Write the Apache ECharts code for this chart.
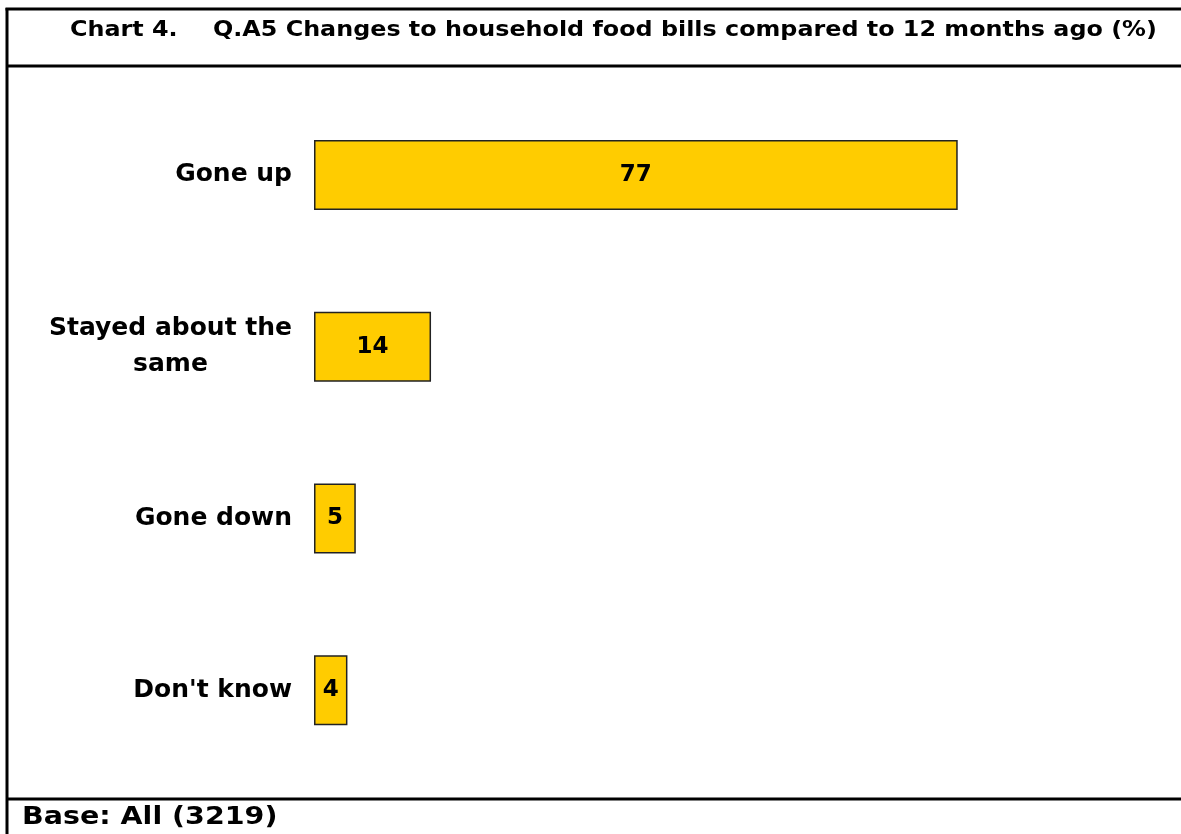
<!DOCTYPE html>
<html>
<head>
<meta charset="utf-8">
<script src="https://cdn.jsdelivr.net/npm/echarts@6/dist/echarts.min.js"></script>
<style>
  html, body { margin: 0; padding: 0; background: #ffffff; }
  #chart { width: 1181px; height: 834px; }
</style>
</head>
<body>
<div id="chart"></div>
<script>
// Survey answers, top to bottom
const categories = ['Gone up', 'Stayed about the\nsame', 'Gone down', "Don't know"];
const percentValues = [77, 14, 5, 4];

const chartNumber = 'Chart 4.';
const chartTitle = 'Q.A5 Changes to household food bills compared to 12 months ago (%)';
const baseNote = 'Base: All (3219)';

const FONT = 'DejaVu Sans';

const chart = echarts.init(document.getElementById('chart'), null, { renderer: 'canvas' });

chart.setOption({
  backgroundColor: '#ffffff',
  animation: false,
  grid: { left: 314, right: 31, top: 89, bottom: 58, containLabel: false },
  xAxis: {
    type: 'value',
    min: 0,
    max: 100,
    show: false
  },
  yAxis: {
    type: 'category',
    inverse: true,
    data: categories,
    axisLine: { show: false },
    axisTick: { show: false },
    splitLine: { show: false },
    axisLabel: {
      margin: 22,
      align: 'right',
      formatter: v => v.split('\n').map(s => '{c|' + s + '}').join('\n'),
      rich: {
        c: {
          align: 'center',
          fontFamily: FONT,
          fontWeight: 'bold',
          fontSize: 25,
          lineHeight: 36,
          color: '#000000'
        }
      }
    }
  },
  series: [{
    type: 'bar',
    data: percentValues,
    barWidth: 70,
    itemStyle: { color: '#FFCC00', borderColor: '#222222', borderWidth: 1.5 },
    label: {
      show: true,
      position: 'inside',
      fontFamily: FONT,
      fontWeight: 'bold',
      fontSize: 23,
      color: '#000000'
    }
  }],
  graphic: [
    // frame lines
    { type: 'line', shape: { x1: 5.5, y1: 9, x2: 1181, y2: 9 }, style: { stroke: '#000', lineWidth: 3 } },
    { type: 'line', shape: { x1: 7, y1: 8, x2: 7, y2: 834 }, style: { stroke: '#000', lineWidth: 3 } },
    { type: 'line', shape: { x1: 7, y1: 66, x2: 1181, y2: 66 }, style: { stroke: '#000', lineWidth: 3 } },
    { type: 'line', shape: { x1: 7, y1: 799, x2: 1181, y2: 799 }, style: { stroke: '#000', lineWidth: 3 } },
    // header
    { type: 'text', x: 70, y: 20, scaleX: 1.135, style: { text: chartNumber, fontFamily: FONT, fontWeight: 'bold', fontSize: 21, fill: '#000' } },
    { type: 'text', x: 213, y: 20, scaleX: 1.135, style: { text: chartTitle, fontFamily: FONT, fontWeight: 'bold', fontSize: 21, fill: '#000' } },
    // footer
    { type: 'text', x: 22, y: 805, scaleX: 1.14, style: { text: baseNote, fontFamily: FONT, fontWeight: 'bold', fontSize: 25, fill: '#000' } }
  ]
});
</script>
</body>
</html>
